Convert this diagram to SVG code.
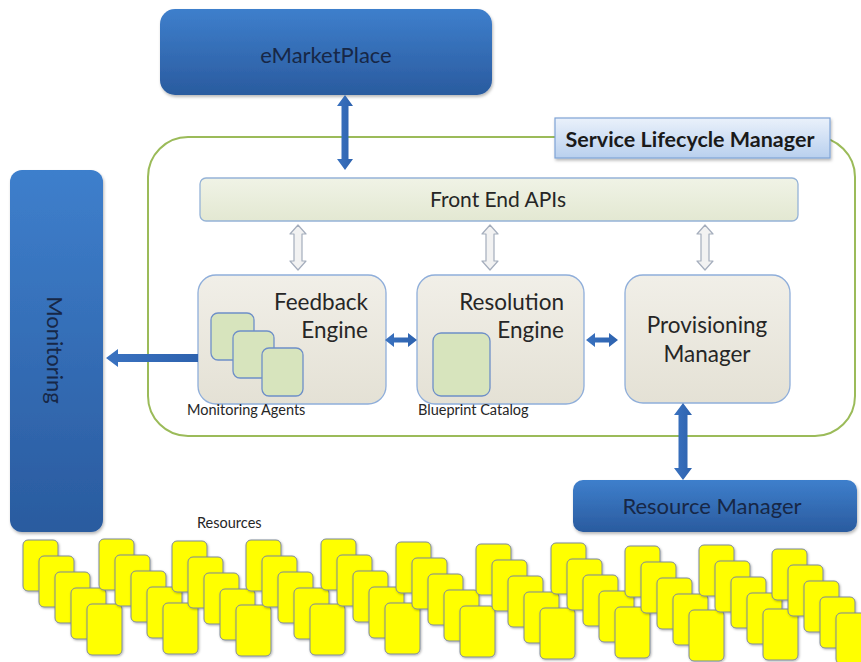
<svg xmlns="http://www.w3.org/2000/svg" xmlns:xlink="http://www.w3.org/1999/xlink" width="861" height="662" viewBox="0 0 861 662">
  <defs>
    <linearGradient id="blueFill" x1="0" y1="0" x2="0" y2="1">
      <stop offset="0" stop-color="#3E7FCC"/>
      <stop offset="1" stop-color="#2A5B9F"/>
    </linearGradient>
    <linearGradient id="labelFill" x1="0" y1="0" x2="0" y2="1">
      <stop offset="0" stop-color="#EAF1FB"/>
      <stop offset="1" stop-color="#B9D0EE"/>
    </linearGradient>
    <linearGradient id="engineFill" x1="0" y1="0" x2="0" y2="1">
      <stop offset="0" stop-color="#F1EFE8"/>
      <stop offset="1" stop-color="#E4E1D5"/>
    </linearGradient>
    <linearGradient id="apiFill" x1="0" y1="0" x2="0" y2="1">
      <stop offset="0" stop-color="#F0F3E6"/>
      <stop offset="1" stop-color="#E3E8D2"/>
    </linearGradient>
    <linearGradient id="arrowFill" x1="0" y1="0" x2="1" y2="0">
      <stop offset="0" stop-color="#3A72C0"/>
      <stop offset="1" stop-color="#2D62AE"/>
    </linearGradient>
    <filter id="shadow" x="-10%" y="-10%" width="125%" height="130%">
      <feDropShadow dx="1" dy="2" stdDeviation="1.6" flood-color="#000" flood-opacity="0.28"/>
    </filter>
    <filter id="cardShadow" x="-15%" y="-15%" width="140%" height="140%">
      <feDropShadow dx="0.8" dy="1" stdDeviation="0.8" flood-color="#000" flood-opacity="0.3"/>
    </filter>
    <rect id="card" width="35" height="51" rx="5" ry="5"/>
    <style>
      .blue { fill: url(#blueFill); filter: url(#shadow); }
      .blueText { font-family: Lato, "Liberation Sans", sans-serif; font-size: 22px; fill: #172746; text-anchor: middle; }
      .engine { fill: url(#engineFill); stroke: #8FAEDA; stroke-width: 1.3; }
      .engineText { font-family: Lato, "Liberation Sans", sans-serif; font-size: 22.5px; fill: #262626; }
      .inner { fill: #D7E4BD; stroke: #6E8FC8; stroke-width: 1.3; }
      .small { font-family: Lato, "Liberation Sans", sans-serif; font-size: 14.5px; fill: #262626; }
      .solid { fill: url(#arrowFill); }
      .hollow { fill: #F2F2F2; stroke: #A4ADBC; stroke-width: 1.2; stroke-linejoin: round; }
      .res use { fill: #FFFF00; stroke: #7F8A9A; stroke-width: 1; filter: url(#cardShadow); }
    </style>
  </defs>

  <rect width="861" height="662" fill="#FFFFFF"/>

  <!-- container: service lifecycle manager -->
  <g id="slm">
    <rect x="148" y="137" width="707" height="299" rx="40" ry="40" fill="none" stroke="#9BBB59" stroke-width="2"/>
    <rect x="555" y="118" width="275" height="40" fill="url(#labelFill)" stroke="#7FA3D6" stroke-width="1.2" filter="url(#shadow)"/>
    <text x="690" y="147" font-family="Lato, 'Liberation Sans', sans-serif" font-size="21.5" font-weight="bold" fill="#1A1A1A" text-anchor="middle">Service Lifecycle Manager</text>
  </g>

  <!-- external systems -->
  <g id="emarketplace">
    <rect class="blue" x="160" y="9" width="332" height="86" rx="15" ry="15"/>
    <text class="blueText" x="326" y="63" font-size="23.5">eMarketPlace</text>
  </g>

  <g id="monitoring">
    <rect class="blue" x="10" y="170" width="93" height="362" rx="12" ry="12"/>
    <text class="blueText" transform="translate(47,350) rotate(90)" font-size="23.5">Monitoring</text>
  </g>

  <g id="resource-manager">
    <rect class="blue" x="573" y="480" width="284" height="52" rx="10" ry="10"/>
    <text class="blueText" x="712" y="514">Resource Manager</text>
  </g>

  <!-- internal components -->
  <g id="front-end-apis">
    <rect x="200" y="178" width="598" height="43" rx="6" ry="6" fill="url(#apiFill)" stroke="#95B3D7" stroke-width="1.3"/>
    <text x="498" y="207" font-family="Lato, 'Liberation Sans', sans-serif" font-size="21" fill="#262626" text-anchor="middle">Front End APIs</text>
  </g>

  <g id="feedback-engine">
    <rect class="engine" x="198" y="275" width="188" height="129" rx="18" ry="18"/>
    <text class="engineText" x="368" y="310" text-anchor="end">Feedback</text>
    <text class="engineText" x="368" y="338" text-anchor="end">Engine</text>
    <rect class="inner" x="211" y="313" width="43" height="47" rx="7" ry="7"/>
    <rect class="inner" x="233" y="331" width="41" height="47" rx="7" ry="7"/>
    <rect class="inner" x="262" y="348" width="41" height="48" rx="7" ry="7"/>
    <text class="small" x="187" y="415">Monitoring Agents</text>
  </g>

  <g id="resolution-engine">
    <rect class="engine" x="417" y="275" width="167" height="129" rx="18" ry="18"/>
    <text class="engineText" x="564" y="310" text-anchor="end">Resolution</text>
    <text class="engineText" x="564" y="338" text-anchor="end">Engine</text>
    <rect class="inner" x="433" y="333" width="57" height="63" rx="8" ry="8"/>
    <text class="small" x="418" y="415">Blueprint Catalog</text>
  </g>

  <g id="provisioning-manager">
    <rect class="engine" x="625" y="275" width="165" height="128" rx="18" ry="18"/>
    <text class="engineText" x="707" y="333" text-anchor="middle">Provisioning</text>
    <text class="engineText" x="707" y="362" text-anchor="middle">Manager</text>
  </g>

  <!-- connectors -->
  <g id="connectors">
    <!-- eMarketPlace <-> front end -->
    <polygon class="solid" points="345,95 353,106 348.5,106 348.5,159 353,159 345,170 337,159 341.5,159 341.5,106 337,106"/>
    <!-- front end <-> components (hollow) -->
    <polygon class="hollow" points="298,225 306,234 302,234 302,261 306,261 298,270 290,261 294,261 294,234 290,234"/>
    <polygon class="hollow" points="490,225 498,234 494,234 494,261 498,261 490,270 482,261 486,261 486,234 482,234"/>
    <polygon class="hollow" points="705,225 713,234 709,234 709,261 713,261 705,270 697,261 701,261 701,234 697,234"/>
    <!-- feedback <-> resolution -->
    <polygon class="solid" points="385,340 394,333 394,337.5 408,337.5 408,333 417,340 408,347 408,342.5 394,342.5 394,347"/>
    <!-- resolution <-> provisioning -->
    <polygon class="solid" points="586,340 595,333 595,337.5 609,337.5 609,333 618,340 609,347 609,342.5 595,342.5 595,347"/>
    <!-- feedback -> monitoring -->
    <polygon class="solid" points="106,358 118,349 118,354 198,354 198,362 118,362 118,367"/>
    <!-- provisioning <-> resource manager -->
    <polygon class="solid" points="683,403 692,415 687.5,415 687.5,468 692,468 683,480 674,468 678.5,468 678.5,415 674,415"/>
  </g>

  <!-- resources -->
  <g id="resources">
    <text class="small" x="197" y="528">Resources</text>
    <g class="res">
      <use href="#card" x="23" y="540"/><use href="#card" x="39" y="556"/><use href="#card" x="55" y="572"/><use href="#card" x="71" y="588"/><use href="#card" x="87" y="604"/>
      <use href="#card" x="99" y="539"/><use href="#card" x="115" y="555"/><use href="#card" x="131" y="571"/><use href="#card" x="147" y="587"/><use href="#card" x="163" y="603"/>
      <use href="#card" x="172" y="541"/><use href="#card" x="188" y="557"/><use href="#card" x="204" y="573"/><use href="#card" x="220" y="589"/><use href="#card" x="236" y="605"/>
      <use href="#card" x="246" y="540"/><use href="#card" x="262" y="556"/><use href="#card" x="278" y="572"/><use href="#card" x="294" y="588"/><use href="#card" x="310" y="604"/>
      <use href="#card" x="321" y="539"/><use href="#card" x="337" y="555"/><use href="#card" x="353" y="571"/><use href="#card" x="369" y="587"/><use href="#card" x="385" y="603"/>
      <use href="#card" x="396" y="542"/><use href="#card" x="412" y="558"/><use href="#card" x="428" y="574"/><use href="#card" x="444" y="590"/><use href="#card" x="460" y="606"/>
      <use href="#card" x="476" y="544"/><use href="#card" x="492" y="560"/><use href="#card" x="508" y="576"/><use href="#card" x="524" y="592"/><use href="#card" x="540" y="608"/>
      <use href="#card" x="551" y="543"/><use href="#card" x="567" y="559"/><use href="#card" x="583" y="575"/><use href="#card" x="599" y="591"/><use href="#card" x="615" y="607"/>
      <use href="#card" x="625" y="546"/><use href="#card" x="641" y="562"/><use href="#card" x="657" y="578"/><use href="#card" x="673" y="594"/><use href="#card" x="689" y="610"/>
      <use href="#card" x="699" y="545"/><use href="#card" x="715" y="561"/><use href="#card" x="731" y="577"/><use href="#card" x="747" y="593"/><use href="#card" x="763" y="609"/>
      <use href="#card" x="772" y="549"/><use href="#card" x="788" y="565"/><use href="#card" x="804" y="581"/><use href="#card" x="820" y="597"/><use href="#card" x="836" y="613"/>
    </g>
  </g>
</svg>
